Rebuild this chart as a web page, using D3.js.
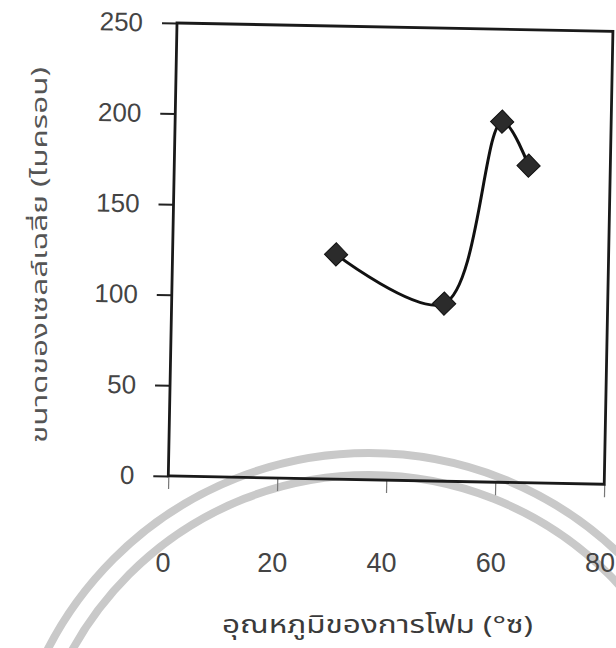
<!DOCTYPE html>
<html>
<head>
<meta charset="utf-8">
<script src="https://cdn.jsdelivr.net/npm/d3@7"></script>
<style>
  body { margin: 0; background: #fff; }
  svg { display: block; }
</style>
</head>
<body>
<div id="chart"></div>
<script>
// values
const temps = [30, 50, 60, 65];
const cellSize = [124, 98, 199, 175];
const yTicks = [0, 50, 100, 150, 200, 250];
const xTicks = [0, 20, 40, 60, 80];
const xTitle = "อุณหภูมิของการโฟม (°ซ)";
const yTitle = "ขนาดของเซลล์เฉลี่ย  (ไมครอน)";

const width = 616, height = 648;
// plot frame (before the slight scan tilt)
const frame = { x: 177, y: 23, w: 436, h: 453 };
const tilt = 1.1;

const svg = d3.select("#chart").append("svg")
    .attr("width", width)
    .attr("height", height);

// faint watermark arcs from the scan
const wm = svg.append("g").attr("fill", "none").attr("stroke", "#c9c9c9");
[361, 339].forEach(r => {
    wm.append("circle")
        .attr("cx", 369).attr("cy", 814).attr("r", r)
        .attr("stroke-width", 8);
});

const x = d3.scaleLinear().domain([0, 80]).range([frame.x, frame.x + frame.w]);
const y = d3.scaleLinear().domain([0, 250]).range([frame.y + frame.h, frame.y]);

const plot = svg.append("g")
    .attr("transform", `rotate(${tilt}, ${frame.x}, ${frame.y})`);

// y axis with ticks outside
const yAxis = plot.append("g")
    .attr("transform", `translate(${frame.x},0)`)
    .call(d3.axisLeft(y).tickValues(yTicks).tickSize(15).tickPadding(19));
yAxis.select(".domain").remove();
yAxis.selectAll(".tick line").attr("stroke", "#222").attr("stroke-width", 2);
yAxis.selectAll(".tick text")
    .attr("fill", "#444")
    .style("font-family", "'Liberation Sans', Arial, sans-serif")
    .style("font-size", "26px");

// x axis ticks only (labels sit lower, see below)
const xAxis = plot.append("g")
    .attr("transform", `translate(0,${frame.y + frame.h})`)
    .call(d3.axisBottom(x).tickValues(xTicks).tickSize(13).tickFormat(""));
xAxis.select(".domain").remove();
xAxis.selectAll(".tick line").attr("stroke", "#777").attr("stroke-width", 1.2);

// frame
plot.append("rect")
    .attr("x", frame.x).attr("y", frame.y)
    .attr("width", frame.w).attr("height", frame.h)
    .attr("fill", "none")
    .attr("stroke", "#1a1a1a")
    .attr("stroke-width", 2.8);

const pts = temps.map((t, i) => [t, cellSize[i]]);

const line = d3.line()
    .x(d => x(d[0]))
    .y(d => y(d[1]))
    .curve(d3.curveCatmullRom.alpha(0.5));

plot.append("path")
    .datum(pts)
    .attr("fill", "none")
    .attr("stroke", "#111")
    .attr("stroke-width", 3)
    .attr("d", line);

plot.selectAll(".marker")
    .data(pts)
    .join("path")
    .attr("class", "marker")
    .attr("d", d3.symbol(d3.symbolSquare, 270))
    .attr("transform", d => `translate(${x(d[0])},${y(d[1])}) rotate(45)`)
    .attr("fill", "#2b2b2b")
    .attr("stroke", "#111")
    .attr("stroke-width", 1);

// x tick labels, set well below the axis as in the scan
const xLabel = d3.scaleLinear().domain([0, 80]).range([163, 600]);
svg.append("g").selectAll("text")
    .data(xTicks)
    .join("text")
    .attr("x", d => xLabel(d))
    .attr("y", 572)
    .attr("text-anchor", "middle")
    .attr("fill", "#444")
    .style("font-family", "'Liberation Sans', Arial, sans-serif")
    .style("font-size", "27px")
    .text(d => d);

svg.append("text")
    .attr("x", 222)
    .attr("y", 633)
    .attr("textLength", 311)
    .attr("lengthAdjust", "spacingAndGlyphs")
    .attr("fill", "#3a3a3a")
    .style("font-family", "'Noto Sans Thai', 'Noto Sans', 'DejaVu Sans', sans-serif")
    .style("font-size", "24px")
    .text(xTitle);

svg.append("text")
    .attr("transform", "translate(47,443) rotate(-90)")
    .attr("textLength", 376)
    .attr("lengthAdjust", "spacingAndGlyphs")
    .attr("fill", "#555")
    .style("font-family", "'Noto Sans Thai', 'Noto Sans', 'DejaVu Sans', sans-serif")
    .style("font-size", "21px")
    .text(yTitle);
</script>
</body>
</html>
